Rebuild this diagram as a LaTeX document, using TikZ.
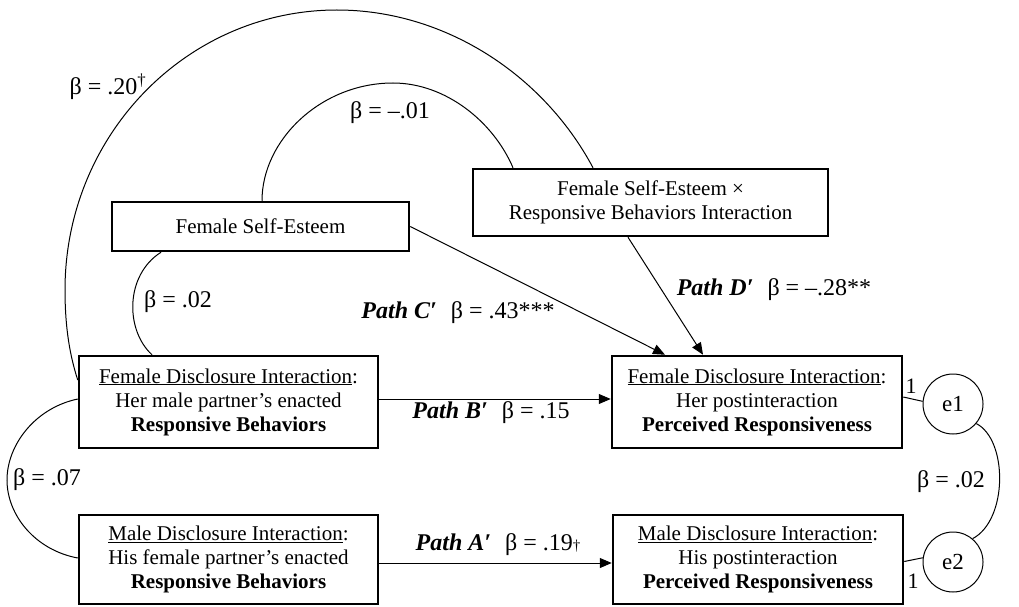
\documentclass[tikz,border=0pt]{standalone}
\usepackage{fontspec}
\setmainfont{Liberation Serif}
\usetikzlibrary{arrows.meta,calc}
\begin{document}
\begin{tikzpicture}[x=1pt,y=-1pt,
  box/.style={draw,line width=2.5pt,inner sep=0pt,align=center,font=\fontsize{21}{24}\selectfont},
  conn/.style={line width=1pt},
  arr/.style={line width=1pt,-{Triangle[length=12pt,width=10pt]}},
  lab/.style={inner sep=0pt,font=\fontsize{24}{26}\selectfont},
  one/.style={inner sep=0pt,font=\fontsize{22}{24}\selectfont},
  err/.style={draw,circle,line width=1pt,minimum size=60pt,inner sep=0pt,font=\fontsize{23}{24}\selectfont}]
\useasboundingbox (0,0) rectangle (1019,607);
% boxes
\node[box,minimum width=297pt,minimum height=49pt] (fse) at (260.5,226.5) {Female Self-Esteem};
\node[box,minimum width=355pt,minimum height=67pt] (int) at (650.5,202.5) {Female Self-Esteem ×\\Responsive Behaviors Interaction};
\node[box,minimum width=299pt,minimum height=92pt] (fdiL) at (228.5,402) {\underline{Female Disclosure Interaction}:\\Her male partner’s enacted\\\textbf{Responsive Behaviors}};
\node[box,minimum width=299pt,minimum height=89pt] (mdiL) at (228.5,559.5) {\underline{Male Disclosure Interaction}:\\His female partner’s enacted\\\textbf{Responsive Behaviors}};
\node[box,minimum width=290pt,minimum height=92pt] (fdiR) at (757,402) {\underline{Female Disclosure Interaction}:\\Her postinteraction\\\textbf{Perceived Responsiveness}};
\node[box,minimum width=290pt,minimum height=89pt] (mdiR) at (758,559.5) {\underline{Male Disclosure Interaction}:\\His postinteraction\\\textbf{Perceived Responsiveness}};
\node[err] (e1) at (953,404) {e1};
\node[err] (e2) at (953,562) {e2};
% arrows
\draw[arr] ($(fdiL.east)+(0,-3)$) -- ($(fdiR.west)+(0,-3)$);
\draw[arr] ($(mdiL.east)+(0,3.5)$) -- ($(mdiR.west)+(0,3.5)$);
\draw[arr] (fse.east) -- ($(fdiR.north)+(-92,0)$);
\draw[arr] ($(int.south)+(-22.5,0)$) -- ($(fdiR.north)+(-54,0)$);
% curved correlations
\draw[conn] ($(fdiL.west)+(0,-22)$) .. controls (68,350) and (65,320) .. (65,290)
  .. controls (65,135) and (187,10) .. (337,10)
  .. controls (444,10) and (543,74) .. ($(int.north)+(-57.5,0)$);
\draw[conn] ($(fse.north)+(1.5,0)$) .. controls (262,140) and (321,83) .. (393,83)
  .. controls (445,83) and (493,121) .. ($(int.north)+(-137.5,0)$);
\draw[conn] ($(fse.south)+(-99.5,0)$) .. controls (125,275) and (125,330) .. ($(fdiL.north)+(-76.5,0)$);
\draw[conn] ($(fdiL.west)+(0,-3)$) .. controls (35,408) and (7,445) .. (7,480)
  .. controls (7,515) and (35,550) .. ($(mdiL.west)+(0,-1.5)$);
\draw[conn] (e1.-40) .. controls (1008,440) and (1008,520) .. (e2.50);
\draw[conn] ($(fdiR.east)+(0,-5)$) -- (e1.175);
\draw[conn] ($(mdiR.east)+(0,2)$) -- (e2.172);
% labels
\node[lab] (l20) at (108,87) {β = .20\textsuperscript{†}};
\node[lab] (l01) at (390,113) {β = –.01};
\node[lab] (l02) at (178,302) {β = .02};
\node[lab] (lc) at (458,313) {\textbf{\textit{Path C′}}\hspace{14pt}β = .43***};
\node[lab] (ld) at (774,290) {\textbf{\textit{Path D′}}\hspace{14pt}β = –.28**};
\node[lab] (lb) at (491,413) {\textbf{\textit{Path B′}}\hspace{14pt}β = .15};
\node[lab] (la) at (498,545) {\textbf{\textit{Path A′}}\hspace{14pt}β = .19{\fontsize{15}{15}\selectfont †}};
\node[lab] (l07) at (47,480) {β = .07};
\node[lab] (l02r) at (951,482) {β = .02};
\node[one] (o1) at (911,386) {1};
\node[one] (o2) at (913,581) {1};
\end{tikzpicture}
\end{document}
